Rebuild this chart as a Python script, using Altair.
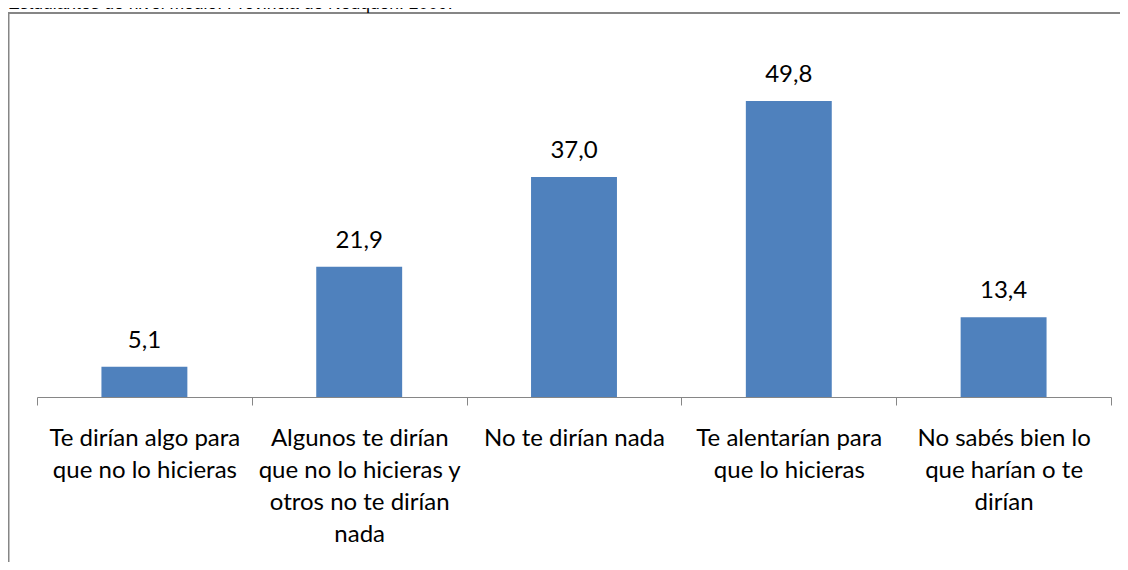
import altair as alt
import pandas as pd

# ---- data ----
categories = [
    "Te dirían algo para\nque no lo hicieras",
    "Algunos te dirían\nque no lo hicieras y\notros no te dirían\nnada",
    "No te dirían nada",
    "Te alentarían para\nque lo hicieras",
    "No sabés bien lo\nque harían o te\ndirían",
]
values = [5.1, 21.9, 37.0, 49.8, 13.4]
value_labels = [f"{v:.1f}".replace(".", ",") for v in values]
title_text = "Estudiantes de nivel medio. Provincia de Neuquén. 2009."

df = pd.DataFrame({"categoria": categories, "porcentaje": values, "etiqueta": value_labels})

W, H = 1112, 549
GRAY = "#868686"
FONT = "Lato"

x_scale = alt.Scale(domain=categories, range=[29, 1103], paddingInner=0, paddingOuter=0)
y_scale = alt.Scale(domain=[0, 50], range=[384, 86.8], nice=False, zero=True)

x_enc = alt.X(
    "categoria:N",
    sort=categories,
    scale=x_scale,
    axis=alt.Axis(
        title=None,
        labelAngle=0,
        labelExpr="datum.value ? split(datum.value, '\\n') : ''",
        labelFont=FONT,
        labelFontSize=24,
        labelColor="#000000",
        labelLineHeight=32,
        labelPadding=21,
        labelLimit=0,
        labelBaseline="top",
        domainColor=GRAY,
        domainWidth=1,
        tickColor=GRAY,
        tickWidth=1,
        tickSize=8,
        tickBand="extent",
        offset=-(H - 384),
        grid=False,
    ),
)
y_enc = alt.Y("porcentaje:Q", scale=y_scale, axis=None)

base = alt.Chart(df).encode(x=x_enc, y=y_enc)

bars = base.mark_bar(width=alt.RelativeBandSize(0.4), color="#4F81BD")
labels = base.mark_text(
    font=FONT, fontSize=24, color="#000000", baseline="alphabetic", dy=-19
).encode(text="etiqueta:N")

# chart frame: only the left and top edges fall inside the picture
frame_df = pd.DataFrame({"k": [0]})
frame_top = alt.Chart(frame_df).mark_rule(color=GRAY, strokeWidth=2).encode(
    x=alt.value(0), x2=alt.value(W + 12), y=alt.value(0)
)
frame_left = alt.Chart(frame_df).mark_rule(color=GRAY, strokeWidth=2).encode(
    x=alt.value(0.5), y=alt.value(0), y2=alt.value(H + 12)
)

# heading line of the source figure, mostly above the picture's top edge
title_df = pd.DataFrame({"titulo": [title_text]})
title_mark = alt.Chart(title_df).mark_text(
    font="Liberation Sans", fontSize=17.5, color="#000000",
    align="left", baseline="alphabetic",
).encode(x=alt.value(0), y=alt.value(-4), text="titulo:N")

chart = (
    alt.layer(bars, labels, frame_top, frame_left, title_mark)
    .properties(
        width=W,
        height=H,
        autosize="none",
        padding={"left": 0, "top": 5, "right": 0, "bottom": 0},
    )
    .configure_view(strokeWidth=0)
)

chart.save("out.html", embed_options={"renderer": "svg", "actions": False})
